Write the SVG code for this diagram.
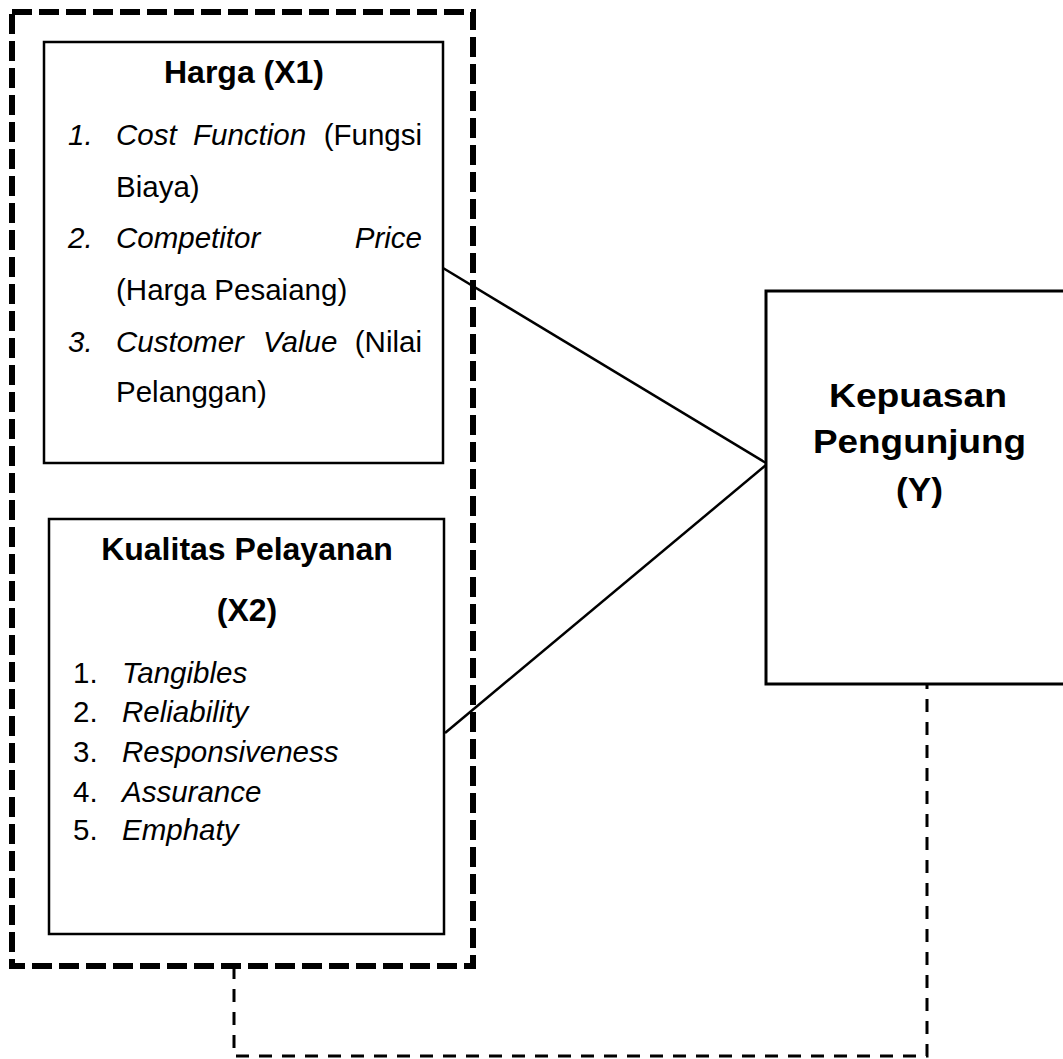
<svg xmlns="http://www.w3.org/2000/svg" width="1063" height="1059" viewBox="0 0 1063 1059">
<style>
.box{fill:#fff;stroke:#000;stroke-width:2.5}
.t{font-family:"Liberation Sans",Arial,sans-serif;fill:#000}
.title{font-size:32px;font-weight:bold;text-anchor:middle}
.body{font-size:29.5px}
.it{font-style:italic}
.ytitle{font-size:33px;font-weight:bold}
.conn{fill:none;stroke:#000;stroke-width:2.5}
.dash{fill:none;stroke:#000;stroke-width:3;stroke-dasharray:13 10}
</style>
<rect width="1063" height="1059" fill="#fff"/>
<g id="group-x">
<rect x="12" y="12" width="461" height="954" fill="none" stroke="#000" stroke-width="6" stroke-dasharray="20 7"/>
</g>
<g id="connectors">
<line class="conn" x1="443" y1="268" x2="766" y2="463"/>
<line class="conn" x1="445" y1="733" x2="766" y2="465"/>
<path class="dash" d="M234 966 V1056 H927 V684"/>
</g>
<g id="harga">
<rect class="box" x="44" y="42" width="399" height="421"/>
<text class="t title" x="244" y="83">Harga (X1)</text>
<g class="t body">
<text class="it" x="68" y="145">1.</text>
<text class="it" x="116" y="145">Cost</text>
<text class="it" x="193" y="145">Function</text>
<text x="422" y="145" text-anchor="end">(Fungsi</text>
<text x="116" y="197">Biaya)</text>
<text class="it" x="68" y="248">2.</text>
<text class="it" x="116" y="248">Competitor</text>
<text class="it" x="422" y="248" text-anchor="end">Price</text>
<text x="116" y="300">(Harga Pesaiang)</text>
<text class="it" x="68" y="352">3.</text>
<text class="it" x="116" y="352">Customer</text>
<text class="it" x="263" y="352">Value</text>
<text x="422" y="352" text-anchor="end">(Nilai</text>
<text x="116" y="402">Pelanggan)</text>
</g>
</g>
<g id="kualitas">
<rect class="box" x="49" y="519" width="395" height="415"/>
<text class="t title" x="247" y="560">Kualitas Pelayanan</text>
<text class="t title" x="247" y="621">(X2)</text>
<g class="t body">
<text x="73" y="683">1.</text><text class="it" x="122" y="683">Tangibles</text>
<text x="73" y="722">2.</text><text class="it" x="122" y="722">Reliability</text>
<text x="73" y="762">3.</text><text class="it" x="122" y="762">Responsiveness</text>
<text x="73" y="802">4.</text><text class="it" x="122" y="802">Assurance</text>
<text x="73" y="840">5.</text><text class="it" x="122" y="840">Emphaty</text>
</g>
</g>
<g id="kepuasan">
<rect x="766" y="291" width="320" height="393" fill="#fff" stroke="#000" stroke-width="3"/>
<text class="t ytitle" x="829" y="407" textLength="178" lengthAdjust="spacingAndGlyphs">Kepuasan</text>
<text class="t ytitle" x="813" y="453" textLength="213" lengthAdjust="spacingAndGlyphs">Pengunjung</text>
<text class="t ytitle" x="896" y="501" textLength="47" lengthAdjust="spacingAndGlyphs">(Y)</text>
</g>
</svg>
